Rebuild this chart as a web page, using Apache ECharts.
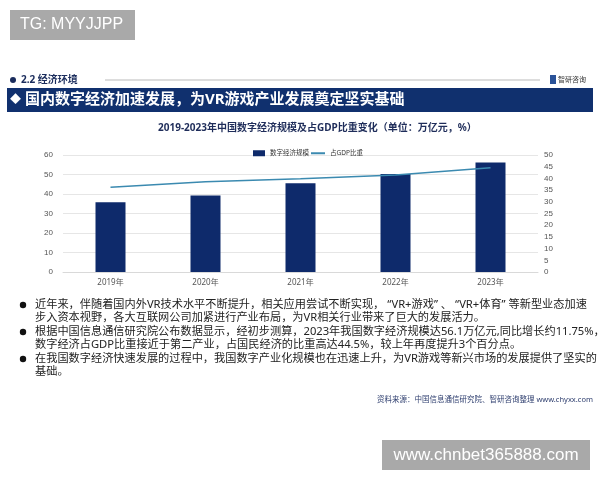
<!DOCTYPE html>
<html><head><meta charset="utf-8">
<script src="https://cdn.jsdelivr.net/npm/echarts@6/dist/echarts.min.js"></script>
<style>html,body{margin:0;padding:0;background:#fff;}#c{width:600px;height:480px;}</style>
</head><body><div id="c"></div>
<script>
const categories = ['2019年','2020年','2021年','2022年','2023年'];
const scaleValues = [35.8, 39.2, 45.5, 50.2, 56.1];
const gdpShare = [36.2, 38.6, 39.8, 41.5, 44.5];
const seriesNames = ['数字经济规模','占GDP比重'];
const chartTitle = '2019-2023年中国数字经济规模及占GDP比重变化（单位：万亿元，%）';
const bullets = [
  ['近年来，伴随着国内外VR技术水平不断提升，相关应用尝试不断实现， “VR+游戏” 、 “VR+体育” 等新型业态加速','步入资本视野，各大互联网公司加紧进行产业布局，为VR相关行业带来了巨大的发展活力。'],
  ['根据中国信息通信研究院公布数据显示，经初步测算，2023年我国数字经济规模达56.1万亿元,同比增长约11.75%，','数字经济占GDP比重接近于第二产业，占国民经济的比重高达44.5%，较上年再度提升3个百分点。'],
  ['在我国数字经济快速发展的过程中，我国数字产业化规模也在迅速上升，为VR游戏等新兴市场的发展提供了坚实的','基础。']
];
const font = '"Noto Sans","Noto Sans CJK SC",sans-serif';
const chart = echarts.init(document.getElementById('c'));
const g = [];
g.push({type:'rect',shape:{x:10,y:10,width:125,height:30},style:{fill:'#a9a9a9'}});
g.push({type:'text',style:{x:20,y:25,text:'TG: MYYJJPP',fill:'#fff',font:'16px "Liberation Sans",Arial,sans-serif',textVerticalAlign:'middle'}});
g.push({type:'circle',shape:{cx:13,cy:80,r:3},style:{fill:'#1a2c5c'}});
g.push({type:'text',style:{x:21,y:80,text:'2.2 经济环境',fill:'#1a2c5c',font:'bold 10px '+font,textVerticalAlign:'middle'}});
g.push({type:'line',shape:{x1:105,y1:80,x2:540,y2:80},style:{stroke:'#bbb',lineWidth:1}});
g.push({type:'rect',shape:{x:550,y:75,width:6,height:9},style:{fill:'#2a5298'}});
g.push({type:'text',style:{x:558,y:80,text:'智研咨询',fill:'#333',font:'7px '+font,textVerticalAlign:'middle'}});
g.push({type:'rect',shape:{x:7,y:88,width:586,height:24},style:{fill:'#10306e'}});
g.push({type:'text',style:{x:10,y:100,text:'◆',fill:'#fff',font:'11px '+font,textVerticalAlign:'middle'}});
g.push({type:'text',style:{x:25,y:100,text:'国内数字经济加速发展，为VR游戏产业发展奠定坚实基础',fill:'#fff',font:'bold 15px '+font,textVerticalAlign:'middle'}});
const ys=[[305,318],[332,345],[359,372]];
bullets.forEach((b,i)=>{
  g.push({type:'circle',shape:{cx:23,cy:ys[i][0],r:3.2},style:{fill:'#111'}});
  b.forEach((t,j)=>g.push({type:'text',style:{x:35,y:ys[i][j],text:t,fill:'#222',font:'11.2px '+font,textVerticalAlign:'middle'}}));
});
g.push({type:'text',style:{x:593,y:400,text:'资料来源：中国信息通信研究院、智研咨询整理 www.chyxx.com',fill:'#2f3f6f',font:'7.5px '+font,textAlign:'right',textVerticalAlign:'middle'}});
g.push({type:'rect',shape:{x:382,y:440,width:208,height:30},style:{fill:'#a9a9a9'}});
g.push({type:'text',style:{x:486,y:455,text:'www.chnbet365888.com',fill:'#fff',font:'17px "Liberation Sans",Arial,sans-serif',textAlign:'center',textVerticalAlign:'middle'}});

chart.setOption({
  animation:false,
  title:{text:chartTitle,left:153,top:118,textStyle:{fontSize:10,fontWeight:'bold',color:'#1f2d5a',fontFamily:font}},
  legend:[
    {top:145,left:248,itemWidth:12,itemHeight:6,itemGap:4,textStyle:{fontSize:6.5,color:'#333',fontFamily:font},data:[{name:seriesNames[0],icon:'rect'}]},
    {top:145,left:306,itemWidth:14,itemHeight:2,textStyle:{fontSize:6.5,color:'#333',fontFamily:font},data:[{name:seriesNames[1],icon:'rect'}]}
  ],
  grid:{left:63,right:62,top:155,bottom:208},
  xAxis:{type:'category',data:categories,axisLine:{lineStyle:{color:'#d9d9d9'}},axisTick:{show:false},axisLabel:{fontSize:8,color:'#555',margin:7,fontFamily:font}},
  yAxis:[
    {type:'value',min:0,max:60,interval:10,axisLabel:{fontSize:8,color:'#555',margin:10},splitLine:{lineStyle:{color:'#e6e6e6'}},axisLine:{show:false}},
    {type:'value',min:0,max:50,interval:5,axisLabel:{fontSize:8,color:'#555',margin:6},splitLine:{show:false},axisLine:{show:false}}
  ],
  series:[
    {name:seriesNames[0],type:'bar',data:scaleValues,barWidth:30,itemStyle:{color:'#0e2a6b'}},
    {name:seriesNames[1],type:'line',yAxisIndex:1,data:gdpShare,symbol:'none',lineStyle:{color:'#3b8ab0',width:1.5},itemStyle:{color:'#3b8ab0'}}
  ],
  graphic:g
});
</script></body></html>
